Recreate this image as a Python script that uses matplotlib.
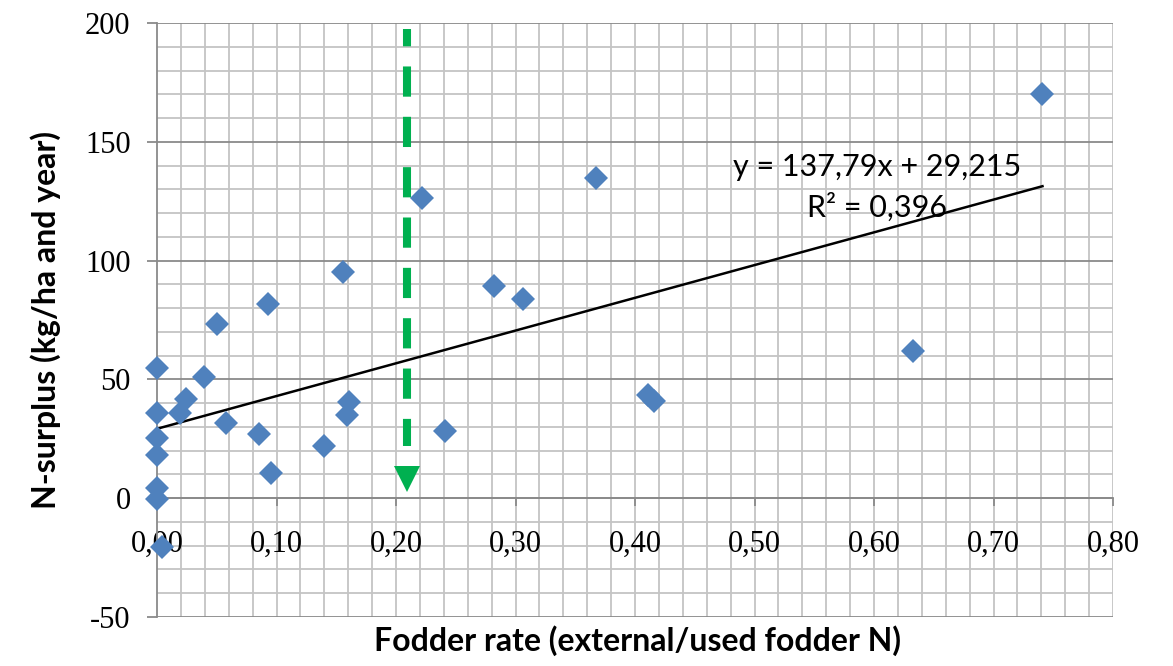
import numpy as np
import matplotlib
matplotlib.use("Agg")
import matplotlib.pyplot as plt

# fodder rate (external / used fodder N) and N-surplus (kg/ha and year)
fodderRate = [0.000, 0.000, 0.000, 0.000, 0.000, 0.000, 0.004, 0.019, 0.024,
              0.039, 0.050, 0.058, 0.085, 0.093, 0.095, 0.140, 0.156, 0.161,
              0.159, 0.222, 0.241, 0.282, 0.306, 0.367, 0.411, 0.416, 0.633,
              0.741]
nSurplus = [55.0, 35.7, 25.2, 18.1, 4.2, -0.5, -20.5, 36.0, 41.6,
            50.8, 73.5, 31.5, 26.9, 81.9, 10.5, 21.8, 95.0, 40.3,
            34.9, 126.5, 28.2, 89.5, 84.0, 134.9, 43.3, 40.8, 61.8,
            170.2]

slope = 137.79
intercept = 29.215
eqText = "y = 137,79x + 29,215"
r2Text = "R² = 0,396"

# threshold arrow
arrowX = 0.209
arrowTop = 197.5
arrowEnd = 21.8
arrowHead = 8.0

xTicks = [0.0, 0.1, 0.2, 0.3, 0.4, 0.5, 0.6, 0.7, 0.8]
xTickLabels = ["0,00", "0,10", "0,20", "0,30", "0,40", "0,50", "0,60", "0,70", "0,80"]
yTicks = [-50, 0, 50, 100, 150, 200]
yTickLabels = ["-50", "0", "50", "100", "150", "200"]

xLabel = "Fodder rate (external/used fodder N)"
yLabel = "N-surplus (kg/ha and year)"

fig = plt.figure(figsize=(11.73, 6.66), dpi=100)
ax = fig.add_axes([157 / 1173, 49 / 666, 956 / 1173, 594 / 666])

ax.set_xlim(0, 0.8)
ax.set_ylim(-50, 200)

# gridlines (drawn as plain lines so the tick labels stay on top)
lightGrey = "#c4c4c4"
darkGrey = "#8a8a8a"
for gx in np.arange(0.02, 0.801, 0.02):
    ax.axvline(gx, color=lightGrey, linewidth=1.3, zorder=0.5)
for gy in np.arange(-50, 201, 10):
    major = gy % 50 == 0
    ax.axhline(gy, color=darkGrey if major else lightGrey, linewidth=1.3,
               zorder=0.6 if major else 0.5)

ax.set_xticks(xTicks)
ax.set_xticklabels(xTickLabels)
ax.set_yticks(yTicks)
ax.set_yticklabels(yTickLabels)

for s in ["top", "right"]:
    ax.spines[s].set_visible(False)
ax.spines["bottom"].set_position(("data", 0))
ax.spines["bottom"].set_color(darkGrey)
ax.spines["left"].set_color(darkGrey)
ax.spines["bottom"].set_linewidth(1.3)
ax.spines["left"].set_linewidth(1.3)

for lab in ax.get_xticklabels() + ax.get_yticklabels():
    lab.set_fontfamily("Liberation Serif")
    lab.set_fontsize(22)
ax.tick_params(axis="x", which="major", direction="out", length=6, width=1.3,
               color=darkGrey, pad=17)
ax.tick_params(axis="y", which="major", direction="out", length=7, width=1.3,
               color=darkGrey, pad=12)

# trend line
xFit = np.array([min(fodderRate), max(fodderRate)])
ax.plot(xFit, slope * xFit + intercept, color="black", linewidth=1.8, zorder=3)

# data
ax.plot(fodderRate, nSurplus, linestyle="none", marker="D", markersize=12.5,
        color="#4f81bd", markeredgewidth=0, clip_on=False, zorder=4)

# green arrow
ax.plot([arrowX, arrowX], [arrowTop, arrowEnd], color="#00b050", linewidth=5.8,
        linestyle=(1.6, (3.75, 2.5)), solid_capstyle="butt", dash_capstyle="butt",
        zorder=5)
ax.plot([arrowX], [arrowHead], marker="v", markersize=19, color="#00b050",
        markeredgewidth=0, zorder=5)

ax.text(0.6025, 139.5, eqText, ha="center", va="center", fontsize=22,
        family="Lato")
ax.text(0.6025, 122.5, r2Text, ha="center", va="center", fontsize=22,
        family="Lato")

ax.set_xlabel(xLabel, fontsize=23, fontweight="bold", family="Lato")
ax.set_ylabel(yLabel, fontsize=23, fontweight="bold", family="Lato")
ax.xaxis.label.set_verticalalignment("center")
ax.yaxis.label.set_verticalalignment("center")
ax.xaxis.set_label_coords((638 - 157) / 956, (617 - 641) / 594)
ax.yaxis.set_label_coords((46 - 157) / 956, (617 - 320) / 594)

fig.savefig("out.png", dpi=100)
